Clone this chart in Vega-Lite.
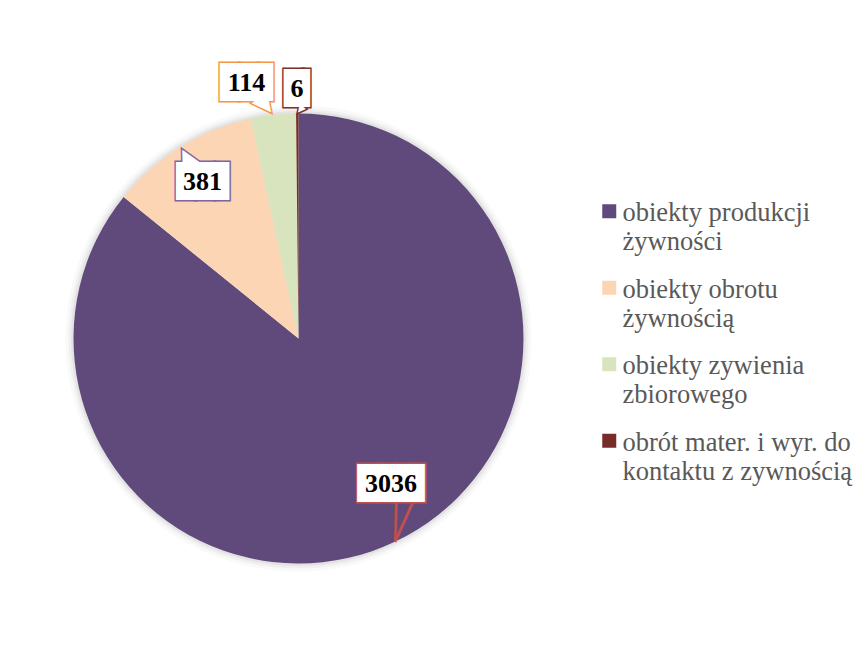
{
  "$schema": "https://vega.github.io/schema/vega-lite/v6.json",
  "width": 597,
  "height": 677,
  "autosize": "none",
  "padding": {"left": 0, "top": 0, "right": 270, "bottom": 0},
  "background": "white",
  "config": {"view": {"stroke": null}},
  "data": {
    "values": [
      {"kategoria": "obiekty produkcji żywności", "liczba": 3036, "kolejnosc": 1},
      {"kategoria": "obiekty obrotu żywnością", "liczba": 381, "kolejnosc": 2},
      {"kategoria": "obiekty zywienia zbiorowego", "liczba": 114, "kolejnosc": 3},
      {"kategoria": "obrót mater. i wyr. do kontaktu z zywnością", "liczba": 6, "kolejnosc": 4}
    ]
  },
  "encoding": {
    "theta": {"field": "liczba", "type": "quantitative", "stack": true},
    "order": {"field": "kolejnosc", "type": "quantitative"}
  },
  "layer": [
    {"mark": {"type": "arc", "radius": 233, "fill": "#000000", "fillOpacity": 0.025, "strokeWidth": 0}},
    {"mark": {"type": "arc", "radius": 230, "fill": "#000000", "fillOpacity": 0.035, "strokeWidth": 0}},
    {"mark": {"type": "arc", "radius": 227.5, "fill": "#000000", "fillOpacity": 0.05, "strokeWidth": 0}},
    {
      "mark": {"type": "arc", "radius": 225},
      "encoding": {
        "color": {
          "field": "kategoria", "type": "nominal",
          "scale": {
            "domain": ["obiekty produkcji żywności", "obiekty obrotu żywnością", "obiekty zywienia zbiorowego", "obrót mater. i wyr. do kontaktu z zywnością"],
            "range": ["#5f4a7b", "#fcd5b5", "#d7e4bd", "#772c2a"]
          },
          "legend": {
            "orient": "none", "legendX": 596, "legendY": 198, "title": null, "padding": 0,
            "symbolType": "square", "symbolSize": 196, "symbolStrokeWidth": 0,
            "labelFont": "Liberation Serif", "labelFontSize": 26.5, "labelColor": "#595959",
            "labelLimit": 400, "labelOffset": 0, "rowPadding": 18.5, "labelBaseline": "alphabetic",
            "labelExpr": "datum.label == 'obiekty produkcji żywności' ? ['obiekty produkcji', 'żywności'] : datum.label == 'obiekty obrotu żywnością' ? ['obiekty obrotu', 'żywnością'] : datum.label == 'obiekty zywienia zbiorowego' ? ['obiekty zywienia', 'zbiorowego'] : ['obrót mater. i wyr. do', 'kontaktu z zywnością']",
            "encode": {"labels": {"update": {"lineHeight": {"value": 29}, "dy": {"value": 10}}}}
          }
        }
      }
    },
    {"mark": {"type": "text", "radius": 225, "text": "███▌", "font": "DejaVu Sans Mono", "fontSize": 32, "align": "center", "baseline": "middle", "dx": 0.4, "dy": -57.6, "fill": "#c0504d", "stroke": "#c0504d", "strokeWidth": 3},
     "encoding": {"opacity": {"condition": {"test": "datum.kategoria === 'obiekty produkcji żywności'", "value": 1}, "value": 0}}},
    {"mark": {"type": "text", "radius": 225, "text": "██▊", "font": "DejaVu Sans Mono", "fontSize": 32, "align": "center", "baseline": "middle", "dx": 24.3, "dy": 35.1, "fill": "#8064a2", "stroke": "#8064a2", "strokeWidth": 3},
     "encoding": {"opacity": {"condition": {"test": "datum.kategoria === 'obiekty obrotu żywnością'", "value": 1}, "value": 0}}},
    {"mark": {"type": "text", "radius": 225, "text": "██▊", "font": "DejaVu Sans Mono", "fontSize": 32, "align": "center", "baseline": "middle", "dx": -24.5, "dy": -31.9, "fill": "#f79646", "stroke": "#f79646", "strokeWidth": 3},
     "encoding": {"opacity": {"condition": {"test": "datum.kategoria === 'obiekty zywienia zbiorowego'", "value": 1}, "value": 0}}},
    {"mark": {"type": "text", "radius": 225, "text": "█▍", "font": "DejaVu Sans Mono", "fontSize": 32, "align": "center", "baseline": "middle", "dx": 5.7, "dy": -24.5, "fill": "#7f2f2c", "stroke": "#7f2f2c", "strokeWidth": 3},
     "encoding": {"opacity": {"condition": {"test": "datum.kategoria === 'obrót mater. i wyr. do kontaktu z zywnością'", "value": 1}, "value": 0}}},

    {"mark": {"type": "text", "radius": 225, "text": "▏", "font": "DejaVu Sans Mono", "fontSize": 32.6, "align": "center", "baseline": "middle", "angle": 1.5, "dx": 8.6, "dy": -17.7, "fill": "#c0504d"},
     "encoding": {"opacity": {"condition": {"test": "datum.kategoria === 'obiekty produkcji żywności'", "value": 1}, "value": 0}}},
    {"mark": {"type": "text", "radius": 225, "text": "▏", "font": "DejaVu Sans Mono", "fontSize": 35.7, "align": "center", "baseline": "middle", "angle": 24.1, "dx": 9.4, "dy": -19.4, "fill": "#c0504d"},
     "encoding": {"opacity": {"condition": {"test": "datum.kategoria === 'obiekty produkcji żywności'", "value": 1}, "value": 0}}},
    {"mark": {"type": "text", "radius": 225, "text": "▲", "font": "DejaVu Sans", "fontSize": 26, "align": "center", "baseline": "middle", "angle": 332, "dx": 0, "dy": 12, "fill": "#8064a2", "stroke": "#8064a2", "strokeWidth": 3},
     "encoding": {"opacity": {"condition": {"test": "datum.kategoria === 'obiekty obrotu żywnością'", "value": 1}, "value": 0}}},
    {"mark": {"type": "text", "radius": 225, "text": "▲", "font": "DejaVu Sans", "fontSize": 25, "align": "center", "baseline": "middle", "angle": 141.8, "dx": 0, "dy": 11.5, "fill": "#f79646", "stroke": "#f79646", "strokeWidth": 3},
     "encoding": {"opacity": {"condition": {"test": "datum.kategoria === 'obiekty zywienia zbiorowego'", "value": 1}, "value": 0}}},
    {"mark": {"type": "text", "radius": 225, "text": "▲", "font": "DejaVu Sans", "fontSize": 10, "align": "center", "baseline": "middle", "angle": 218.7, "dx": 0, "dy": 4.5, "fill": "#7f2f2c", "stroke": "#7f2f2c", "strokeWidth": 3},
     "encoding": {"opacity": {"condition": {"test": "datum.kategoria === 'obrót mater. i wyr. do kontaktu z zywnością'", "value": 1}, "value": 0}}},

    {"mark": {"type": "text", "radius": 225, "text": "███▌", "font": "DejaVu Sans Mono", "fontSize": 32, "align": "center", "baseline": "middle", "dx": 0.4, "dy": -57.6, "fill": "white"},
     "encoding": {"opacity": {"condition": {"test": "datum.kategoria === 'obiekty produkcji żywności'", "value": 1}, "value": 0}}},
    {"mark": {"type": "text", "radius": 225, "text": "██▊", "font": "DejaVu Sans Mono", "fontSize": 32, "align": "center", "baseline": "middle", "dx": 24.3, "dy": 35.1, "fill": "white"},
     "encoding": {"opacity": {"condition": {"test": "datum.kategoria === 'obiekty obrotu żywnością'", "value": 1}, "value": 0}}},
    {"mark": {"type": "text", "radius": 225, "text": "██▊", "font": "DejaVu Sans Mono", "fontSize": 32, "align": "center", "baseline": "middle", "dx": -24.5, "dy": -31.9, "fill": "white"},
     "encoding": {"opacity": {"condition": {"test": "datum.kategoria === 'obiekty zywienia zbiorowego'", "value": 1}, "value": 0}}},
    {"mark": {"type": "text", "radius": 225, "text": "█▍", "font": "DejaVu Sans Mono", "fontSize": 32, "align": "center", "baseline": "middle", "dx": 5.7, "dy": -24.5, "fill": "white"},
     "encoding": {"opacity": {"condition": {"test": "datum.kategoria === 'obrót mater. i wyr. do kontaktu z zywnością'", "value": 1}, "value": 0}}},

    {"mark": {"type": "text", "radius": 225, "text": "▲", "font": "DejaVu Sans", "fontSize": 26, "align": "center", "baseline": "middle", "angle": 332, "dx": 0, "dy": 12, "fill": "white"},
     "encoding": {"opacity": {"condition": {"test": "datum.kategoria === 'obiekty obrotu żywnością'", "value": 1}, "value": 0}}},
    {"mark": {"type": "text", "radius": 225, "text": "▲", "font": "DejaVu Sans", "fontSize": 25, "align": "center", "baseline": "middle", "angle": 141.8, "dx": 0, "dy": 11.5, "fill": "white"},
     "encoding": {"opacity": {"condition": {"test": "datum.kategoria === 'obiekty zywienia zbiorowego'", "value": 1}, "value": 0}}},
    {"mark": {"type": "text", "radius": 225, "text": "▲", "font": "DejaVu Sans", "fontSize": 10, "align": "center", "baseline": "middle", "angle": 218.7, "dx": 0, "dy": 4.5, "fill": "white"},
     "encoding": {"opacity": {"condition": {"test": "datum.kategoria === 'obrót mater. i wyr. do kontaktu z zywnością'", "value": 1}, "value": 0}}},

    {"mark": {"type": "text", "radius": 225, "font": "Liberation Serif", "fontSize": 26, "fontWeight": "bold", "align": "center", "baseline": "middle", "dx": -4.4, "dy": -57.6, "fill": "black"},
     "encoding": {"text": {"field": "liczba", "type": "quantitative", "format": "d"}, "opacity": {"condition": {"test": "datum.kategoria === 'obiekty produkcji żywności'", "value": 1}, "value": 0}}},
    {"mark": {"type": "text", "radius": 225, "font": "Liberation Serif", "fontSize": 26, "fontWeight": "bold", "align": "center", "baseline": "middle", "dx": 21.9, "dy": 35.1, "fill": "black"},
     "encoding": {"text": {"field": "liczba", "type": "quantitative", "format": "d"}, "opacity": {"condition": {"test": "datum.kategoria === 'obiekty obrotu żywnością'", "value": 1}, "value": 0}}},
    {"mark": {"type": "text", "radius": 225, "font": "Liberation Serif", "fontSize": 26, "fontWeight": "bold", "align": "center", "baseline": "middle", "dx": -26.9, "dy": -31.9, "fill": "black"},
     "encoding": {"text": {"field": "liczba", "type": "quantitative", "format": "d"}, "opacity": {"condition": {"test": "datum.kategoria === 'obiekty zywienia zbiorowego'", "value": 1}, "value": 0}}},
    {"mark": {"type": "text", "radius": 225, "font": "Liberation Serif", "fontSize": 26, "fontWeight": "bold", "align": "center", "baseline": "middle", "dx": -0.3, "dy": -24.5, "fill": "black"},
     "encoding": {"text": {"field": "liczba", "type": "quantitative", "format": "d"}, "opacity": {"condition": {"test": "datum.kategoria === 'obrót mater. i wyr. do kontaktu z zywnością'", "value": 1}, "value": 0}}}
  ]
}
